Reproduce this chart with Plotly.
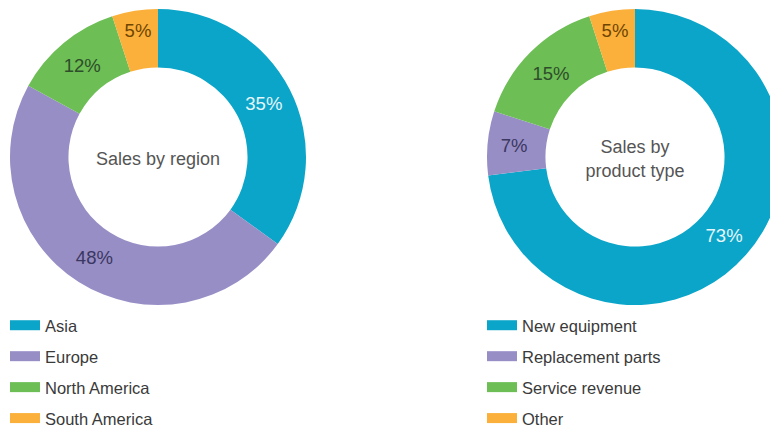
import plotly.graph_objects as go

# --- data ---------------------------------------------------------------
region_labels = ["Asia", "Europe", "North America", "South America"]
region_values = [35, 48, 12, 5]

product_labels = ["New equipment", "Replacement parts", "Service revenue", "Other"]
product_values = [73, 7, 15, 5]

slice_colors = ["#0aa5c8", "#988ec6", "#6cbe55", "#fbb03b"]
label_colors = ["#e6f6fb", "#3a3760", "#2e4d2a", "#6e4500"]

# --- geometry (pixels) --------------------------------------------------
W, H = 800, 429
R = 148
left_c = (158, 157)
right_c = (635, 157)


def dom(c):
    cx, cy = c
    return dict(x=[(cx - R) / W, (cx + R) / W],
                y=[(H - cy - R) / H, (H - cy + R) / H])


font_family = "Liberation Sans, Arial, sans-serif"

fig = go.Figure()

for labels, values, center, title in [
    (region_labels, region_values, left_c, "Sales by region"),
    (product_labels, product_values, right_c, "Sales by<br>product type"),
]:
    fig.add_trace(go.Pie(
        labels=labels,
        values=values,
        hole=0.605,
        sort=False,
        direction="clockwise",
        rotation=0,
        domain=dom(center),
        marker=dict(colors=slice_colors, line=dict(width=0)),
        textinfo="percent",
        texttemplate="%{percent:.0%}",
        textposition="inside",
        insidetextorientation="horizontal",
        insidetextfont=dict(family=font_family, size=18.5, color=label_colors),
        title=dict(text=title, position="middle center",
                   font=dict(family=font_family, size=18, color="#555555")),
        showlegend=False,
        hoverinfo="label+percent",
    ))

# legend entries drawn as wide swatches
for labels, legend_id in [(region_labels, "legend"), (product_labels, "legend2")]:
    for name, col in zip(labels, slice_colors):
        fig.add_trace(go.Scatter(
            x=[None], y=[None], mode="lines", name=name,
            line=dict(color=col, width=11),
            legend=legend_id, legendgroup=legend_id + name,
            hoverinfo="skip",
        ))

legend_common = dict(
    orientation="v", xanchor="left", yanchor="top",
    font=dict(family=font_family, size=16.5, color="#3a3a3a"),
    bgcolor="rgba(0,0,0,0)", borderwidth=0, tracegroupgap=6.5,
    itemclick=False, itemdoubleclick=False,
)

fig.update_layout(
    width=W, height=H, autosize=False,
    margin=dict(l=0, r=0, t=0, b=0, autoexpand=False),
    paper_bgcolor="white", plot_bgcolor="white",
    xaxis=dict(visible=False), yaxis=dict(visible=False),
    legend=dict(x=5 / W, y=(H - 308) / H, **legend_common),
    legend2=dict(x=482 / W, y=(H - 308) / H, **legend_common),
)

fig.write_html(
    "out.html",
    post_script="document.documentElement.style.overflow='hidden';"
                "document.body.style.overflow='hidden';",
)
